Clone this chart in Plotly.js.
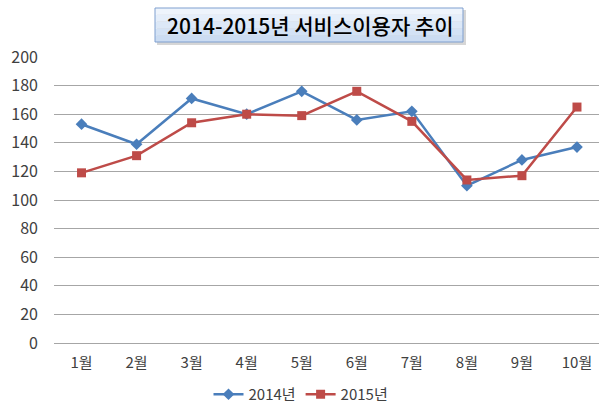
<!DOCTYPE html>
<html>
<head>
<meta charset="utf-8">
<script src="https://cdn.plot.ly/plotly-3.0.1.min.js"></script>
<style>html,body{margin:0;padding:0;background:#fff;}#chart{width:599px;height:404px;}</style>
</head>
<body>
<div id="chart"></div>
<script>
const months = ['1월','2월','3월','4월','5월','6월','7월','8월','9월','10월'];
const series2014 = [153, 139, 171, 160, 176, 156, 162, 110, 128, 137];
const series2015 = [119, 131, 154, 160, 159, 176, 155, 114, 117, 165];
const seriesNames = ['2014년', '2015년'];
const titleText = '2014-2015년 서비스이용자 추이';
const yTicks = [0, 20, 40, 60, 80, 100, 120, 140, 160, 180, 200];

const fontFam = '"Noto Sans CJK KR", "Noto Sans", sans-serif';

const traces = [
  {
    x: months, y: series2014, name: seriesNames[0], type: 'scatter', mode: 'lines+markers',
    line: {color: '#4A7EBB', width: 2.5},
    marker: {symbol: 'diamond', size: 9, color: '#4A7EBB'}
  },
  {
    x: months, y: series2015, name: seriesNames[1], type: 'scatter', mode: 'lines+markers',
    line: {color: '#BE4B48', width: 2.5},
    marker: {symbol: 'square', size: 9, color: '#BE4B48'}
  }
];

const bx0 = (155-54)/545, bx1 = (463-54)/545;
const pyToPaper = py => (343-py)/286;
const shapes = [];
shapes.push({type:'rect', xref:'paper', yref:'paper', x0:(157-54)/545, x1:(466-54)/545, y0:pyToPaper(45), y1:pyToPaper(10), fillcolor:'rgba(120,120,120,0.3)', line:{width:0}, layer:'above'});
const bandColors = ['#eef4fc','#e5eefa','#dce8f7','#d3e2f5','#cbdcf2'];
const boxTop = 8, boxBottom = 42, nb = bandColors.length;
for (let i=0;i<nb;i++){
  shapes.push({type:'rect', xref:'paper', yref:'paper', x0:bx0, x1:bx1,
    y0:pyToPaper(boxTop + (boxBottom-boxTop)*(i+1)/nb), y1:pyToPaper(boxTop + (boxBottom-boxTop)*i/nb),
    fillcolor:bandColors[i], line:{width:0}, layer:'above'});
}
shapes.push({type:'rect', xref:'paper', yref:'paper', x0:bx0, x1:bx1, y0:pyToPaper(boxBottom), y1:pyToPaper(boxTop), fillcolor:'rgba(0,0,0,0)', line:{color:'#7f9fcf', width:1}, layer:'above'});

const layout = {
  width: 599, height: 404,
  margin: {l: 54, r: 0, t: 57, b: 61, autoexpand: false},
  paper_bgcolor: '#ffffff', plot_bgcolor: '#ffffff',
  showlegend: true,
  legend: {orientation: 'h', x: (301-54)/545, xanchor: 'center', y: -0.18, yanchor: 'middle',
    font: {family: fontFam, size: 15, color: '#404040'}},
  xaxis: {
    type: 'category', range: [-0.5, 9.4], showgrid: false, zeroline: false, showline: false,
    ticks: '', ticklabelstandoff: 9, tickangle: 0,
    tickfont: {family: fontFam, size: 15, color: '#404040'}
  },
  yaxis: {
    range: [0, 200], tickvals: yTicks, ticks: '', showline: false,
    gridcolor: '#a6a6a6', gridwidth: 1, zeroline: true, zerolinecolor: '#a6a6a6', zerolinewidth: 1,
    ticklabelstandoff: 15,
    tickfont: {family: fontFam, size: 16, color: '#404040'}
  },
  shapes: shapes,
  annotations: [{
    text: titleText, xref: 'paper', yref: 'paper', x: (310-54)/545, y: pyToPaper(25),
    xanchor: 'center', yanchor: 'middle', showarrow: false,
    font: {family: fontFam, size: 21, color: '#000000', weight: 500}
  }]
};

Plotly.newPlot('chart', traces, layout, {displayModeBar: false, staticPlot: true});
</script>
</body>
</html>
